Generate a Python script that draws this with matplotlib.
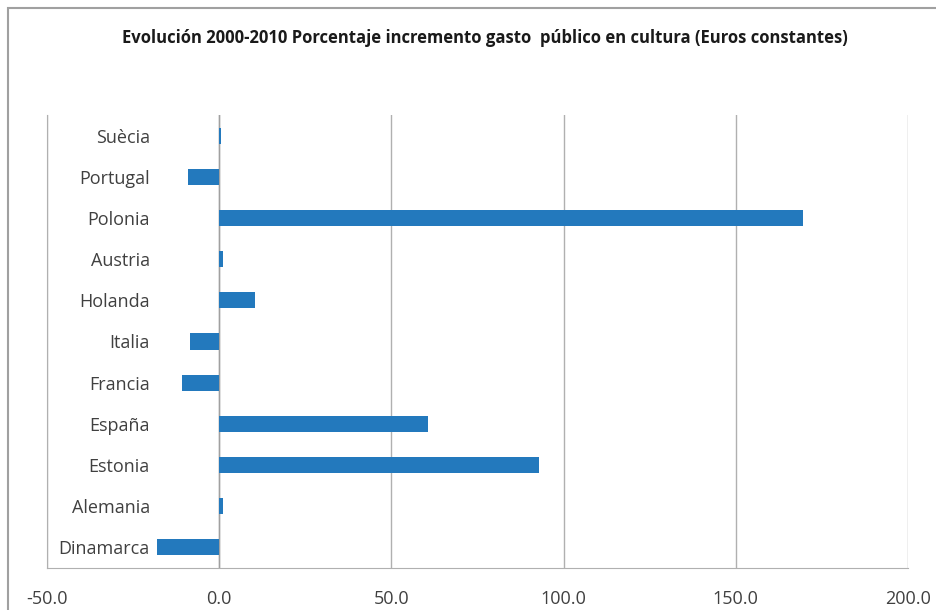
import matplotlib.pyplot as plt
from matplotlib.patches import Rectangle

# data, bottom to top as in the chart
countries = ["Dinamarca", "Alemania", "Estonia", "España", "Francia", "Italia",
             "Holanda", "Austria", "Polonia", "Portugal", "Suècia"]
increase = [-18.2, 1.1, 92.8, 60.7, -10.7, -8.4, 10.4, 1.1, 169.5, -9.0, 0.5]
x_ticks = [-50, 0, 50, 100, 150, 200]
x_labels = ["-50.0", "0.0", "50.0", "100.0", "150.0", "200.0"]
title = "Evolución 2000-2010 Porcentaje incremento gasto  público en cultura (Euros constantes)"

plt.rcParams['font.family'] = ['Open Sans', 'DejaVu Sans']

fig = plt.figure(figsize=(9.36, 6.1), dpi=100)
ax = fig.add_axes([47 / 936, 1 - 568 / 610, (908 - 47) / 936, (568 - 115) / 610])

# outer chart frame
fig.patches.append(Rectangle((8 / 936, -0.05), 1.1, 1 - 8 / 610 + 0.05,
                             transform=fig.transFigure, fill=False,
                             edgecolor='#a0a0a0', linewidth=1.5))

pos = list(range(len(countries)))
ax.barh(pos, increase, height=0.39, color='#2379bd', zorder=3)

ax.set_xlim(-50, 200)
ax.set_ylim(-0.5, len(countries) - 0.5)
ax.set_xticks(x_ticks)
ax.set_xticklabels(x_labels, fontsize=13, color='#404040')
ax.set_yticks(pos)
ax.set_yticklabels(countries, fontsize=13, color='#404040', ha='right')
ax.tick_params(axis='y', length=0, pad=-74)
ax.tick_params(axis='x', length=0, pad=16)

ax.grid(axis='x', color='#b0b0b0', linewidth=1, zorder=0)
ax.axvline(0, color='#a0a0a0', linewidth=1, zorder=2)
for side in ['top', 'right']:
    ax.spines[side].set_visible(False)
ax.spines['left'].set_color('#b0b0b0')
ax.spines['bottom'].set_color('#b0b0b0')

fig.text(485 / 936, 1 - 38 / 610, title,
         ha='center', va='center', fontsize=12, fontweight='bold', color='#1a1a1a')

fig.savefig("out.png", dpi=100)
